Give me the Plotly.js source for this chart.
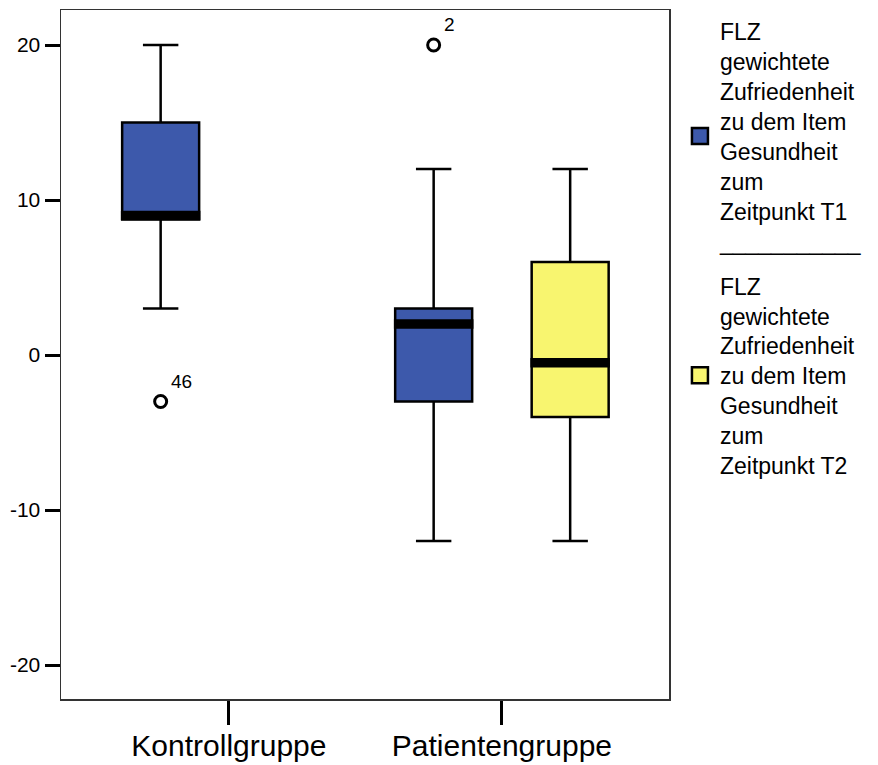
<!DOCTYPE html>
<html>
<head>
<meta charset="utf-8">
<script src="https://cdn.plot.ly/plotly-3.0.1.min.js"></script>
<style>html,body{margin:0;padding:0;background:#fff;}</style>
</head>
<body>
<div id="chart" style="width:878px;height:765px;"></div>
<script>
// ---- data ----
const groups = ['Kontrollgruppe', 'Patientengruppe'];

// FLZ T1 (both groups)
const t1Cats = ['Kontrollgruppe', 'Patientengruppe'];
const t1Lower = [3, -12];
const t1Q1 = [8.75, -3];
const t1Median = [9, 2];
const t1Q3 = [15, 3];
const t1Upper = [20, 12];

// FLZ T2 (only Patientengruppe)
const t2Cats = ['Patientengruppe'];
const t2Lower = [-12];
const t2Q1 = [-4];
const t2Median = [-0.5];
const t2Q3 = [6];
const t2Upper = [12];

// outliers (T1)
const outT1Cats = ['Kontrollgruppe', 'Patientengruppe'];
const outT1Values = [-3, 20];
const outT1Labels = ['46', '2'];

const yTicks = [-20, -10, 0, 10, 20];

const nameT1 = 'FLZ<br>gewichtete<br>Zufriedenheit<br>zu dem Item<br>Gesundheit<br>zum<br>Zeitpunkt T1';
const nameT2 = 'FLZ<br>gewichtete<br>Zufriedenheit<br>zu dem Item<br>Gesundheit<br>zum<br>Zeitpunkt T2';
const separator = '___________';

// ---- style ----
const FONT = 'Liberation Sans, Arial, Helvetica, sans-serif';
const BLUE = '#3d59ab';
const YELLOW = '#f8f56f';
const BOXGAP = 0;
const BOXGROUPGAP = 0.436;
const MEDIAN_HALF = 0.23;
// plotly group offset for 2 offset groups with 1 unit category spacing
const SHIFT = 0.5 * 0.5 * (1 - BOXGAP);

const idx = c => groups.indexOf(c);

function boxTrace(cats, lo, q1, med, q3, hi, fill, group) {
  return {
    type: 'box', x: cats.map(idx),
    lowerfence: lo, q1: q1, median: med, q3: q3, upperfence: hi,
    fillcolor: fill, line: {color: '#000', width: 2.5},
    whiskerwidth: 0.46, offsetgroup: group, alignmentgroup: 'a',
    showlegend: false, hoverinfo: 'skip', boxpoints: false
  };
}
function medianTrace(cats, med, group) {
  const lo = med.map(m => m - MEDIAN_HALF);
  const hi = med.map(m => m + MEDIAN_HALF);
  return {
    type: 'box', x: cats.map(idx),
    lowerfence: lo, q1: lo, median: med, q3: hi, upperfence: hi,
    fillcolor: '#000', line: {color: '#000', width: 2.5},
    whiskerwidth: 0, offsetgroup: group, alignmentgroup: 'a',
    showlegend: false, hoverinfo: 'skip', boxpoints: false
  };
}

const outX = outT1Cats.map(c => idx(c) - SHIFT);

const data = [
  boxTrace(t1Cats, t1Lower, t1Q1, t1Median, t1Q3, t1Upper, BLUE, 'T1'),
  boxTrace(t2Cats, t2Lower, t2Q1, t2Median, t2Q3, t2Upper, YELLOW, 'T2'),
  medianTrace(t1Cats, t1Median, 'T1'),
  medianTrace(t2Cats, t2Median, 'T2'),
  {
    type: 'scatter', mode: 'markers', x: outX, y: outT1Values,
    marker: {symbol: 'circle-open', size: 12, color: '#000', line: {width: 3, color: '#000'}},
    showlegend: false, hoverinfo: 'skip'
  },
  {
    type: 'scatter', mode: 'markers', x: [null], y: [null], name: nameT1 + '<br>' + separator,
    legendgroup: 'g1',
    marker: {symbol: 'square', size: 16, color: BLUE, line: {width: 2.5, color: '#000'}}
  },
  {
    type: 'scatter', mode: 'markers', x: [null], y: [null], name: nameT2,
    legendgroup: 'g2',
    marker: {symbol: 'square', size: 16, color: YELLOW, line: {width: 2.5, color: '#000'}}
  }
];

const annotations = outT1Labels.map((t, i) => ({
  x: outX[i], y: outT1Values[i], xref: 'x', yref: 'y', text: t, showarrow: false,
  xanchor: 'left', yanchor: 'bottom', xshift: 8, yshift: 8,
  font: {family: FONT, size: 19, color: '#000'}
}));

const layout = {
  width: 878, height: 765,
  margin: {l: 61, r: 209, t: 10, b: 66, pad: 0},
  paper_bgcolor: '#fff', plot_bgcolor: '#fff',
  font: {family: FONT, color: '#000'},
  boxmode: 'group', boxgap: BOXGAP, boxgroupgap: BOXGROUPGAP,
  showlegend: true,
  legend: {
    x: 1.018, xanchor: 'left', y: 1.0, yanchor: 'top',
    font: {family: FONT, size: 23, color: '#000'},
    bgcolor: 'rgba(0,0,0,0)', borderwidth: 0, itemclick: false, itemdoubleclick: false,
    traceorder: 'grouped', tracegroupgap: 12
  },
  xaxis: {
    type: 'linear', range: [-0.615, 1.612],
    tickvals: groups.map(idx), ticktext: groups,
    ticks: 'outside', ticklen: 24, tickwidth: 3, tickcolor: '#000',
    ticklabelstandoff: -5,
    showgrid: false, zeroline: false, showline: true, mirror: true,
    linecolor: '#333', linewidth: 1.5,
    tickfont: {family: FONT, size: 30, color: '#000'}
  },
  yaxis: {
    type: 'linear', range: [-22.19, 22.26],
    tickvals: yTicks, ticktext: yTicks.map(String),
    ticks: 'outside', ticklen: 15, tickwidth: 3, tickcolor: '#000',
    showgrid: false, zeroline: false, showline: true, mirror: true,
    linecolor: '#333', linewidth: 1.5,
    tickfont: {family: FONT, size: 21, color: '#000'}
  },
  annotations: annotations
};

Plotly.newPlot('chart', data, layout, {staticPlot: true, displayModeBar: false});
</script>
</body>
</html>
